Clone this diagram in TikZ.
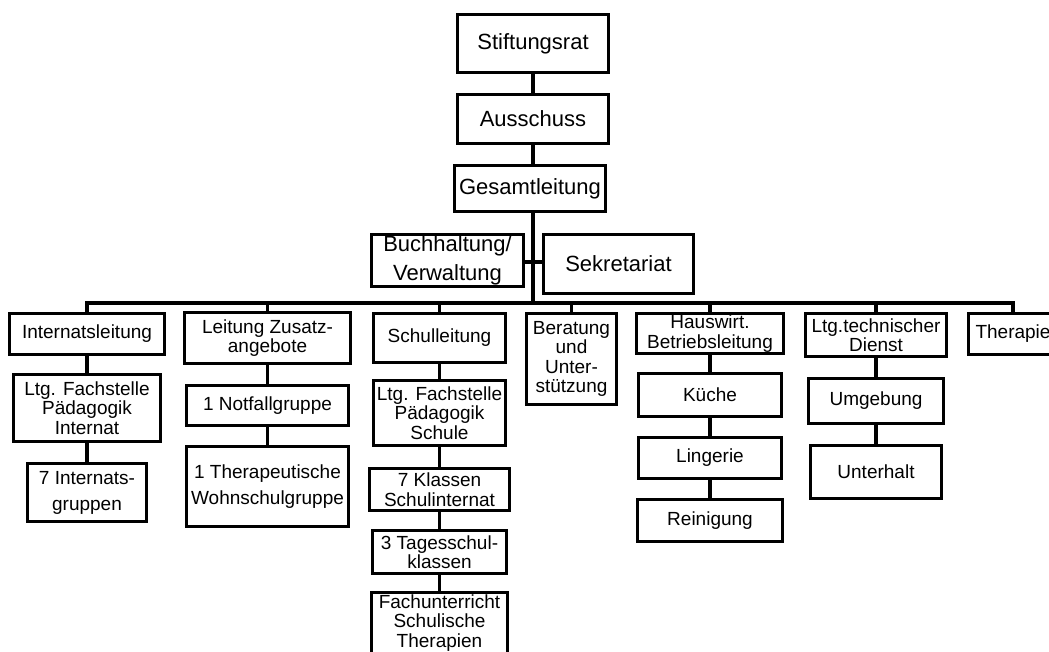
\documentclass[tikz,border=0pt]{standalone}
\usepackage{fontspec}
\setmainfont{Liberation Sans}
\usetikzlibrary{positioning, calc}

\newcommand{\orgtop}{\fontsize{16.5}{17}\selectfont}
\newcommand{\orgsub}{\fontsize{14.25}{14.6}\selectfont}

\begin{document}
\begin{tikzpicture}[x=0.75pt, y=-0.75pt,
    orgbox/.style 2 args={draw, line width=2.6pt, inner sep=0pt, align=center,
      minimum width={(#1-3.5)*0.75pt}, minimum height={(#2-3.5)*0.75pt}},
    toplvl/.style={font=\orgtop},
    sublvl/.style={font=\orgsub},
    link/.style={line width=2.6pt}]
  \useasboundingbox (0,0) rectangle (1049,652);
  \clip (0,0) rectangle (1049,652);
  % Stiftung und Leitung
  \node[orgbox={154}{61}, toplvl] (stift) at (533,43.5) {Stiftungsrat};
  \node[orgbox={154}{52}, toplvl] (aus) at (533,119) {Ausschuss};
  \node[orgbox={154}{49}, toplvl] (gesamt) at (530,188.5) {Gesamtleitung};
  \node[orgbox={155}{55}, toplvl] (buch) at (447.5,260.5) {Buchhaltung/\\[5pt]Verwaltung};
  \node[orgbox={153}{62}, toplvl] (sekr) at (618.5,264) {Sekretariat};
  \coordinate (sec) at (533,262);
  \coordinate (bus) at (533,303);
  % Bereiche
  \node[orgbox={158}{44}, sublvl] (intl) at (87,334) {Internatsleitung};
  \node[orgbox={169}{54}, sublvl] (zus) at (267.5,338) {Leitung Zusatz-\\angebote};
  \node[orgbox={135}{52}, sublvl] (schul) at (439.5,338) {Schulleitung};
  \node[orgbox={93}{94}, sublvl] (berat) at (571.5,359) {Beratung\\und\\Unter-\\stützung};
  \node[orgbox={150}{43}, sublvl] (haus) at (710,333.5) {Hauswirt.\\Betriebsleitung};
  \node[orgbox={145}{46}, sublvl] (tech) at (876,335) {Ltg.technischer\\Dienst};
  \node[orgbox={92}{44}, sublvl] (ther) at (1013,334) {Therapie};
  % Internat
  \node[orgbox={150}{70}, sublvl] (fint) at (87,408) {Ltg. Fachstelle\\Pädagogik\\Internat};
  \node[orgbox={123}{61}, sublvl] (igr) at (87,492.5) {7 Internats-\\[5pt]gruppen};
  % Zusatzangebote
  \node[orgbox={165}{43}, sublvl] (notf) at (267.5,405.5) {1 Notfallgruppe};
  \node[orgbox={165}{83}, sublvl] (wohn) at (267.5,486.5) {1 Therapeutische\\[4.5pt]Wohnschulgruppe};
  % Schule
  \node[orgbox={136}{68}, sublvl] (fsch) at (439.5,413) {Ltg. Fachstelle\\Pädagogik\\Schule};
  \node[orgbox={143}{45}, sublvl] (kla) at (439.5,489.5) {7 Klassen\\Schulinternat};
  \node[orgbox={137}{46}, sublvl] (tag) at (439.5,552) {3 Tagesschul-\\klassen};
  \node[orgbox={140}{64}, sublvl] (fach) at (439.5,623) {Fachunterricht\\Schulische\\Therapien};
  % Hauswirtschaft
  \node[orgbox={147}{46}, sublvl] (kue) at (710,395) {Küche};
  \node[orgbox={146}{44}, sublvl] (ling) at (710,458) {Lingerie};
  \node[orgbox={149}{45}, sublvl] (rein) at (710,520.5) {Reinigung};
  % Technischer Dienst
  \node[orgbox={138}{48}, sublvl] (umg) at (876,401) {Umgebung};
  \node[orgbox={135}{56}, sublvl] (unt) at (876,472) {Unterhalt};
  % Verbindungen
  \draw[link] (stift) -- (aus);
  \draw[link] (aus.south) -- (aus.south |- gesamt.north);
  \draw[link] (gesamt.south -| bus) -- (bus);
  \draw[link] (buch.east |- sec) -- (sekr.west |- sec);
  \draw[link] (intl.north) |- (bus) -| (ther.north);
  \foreach \n in {zus,schul,berat,haus,tech}
    \draw[link] (\n.north) -- (\n.north |- bus);
  \draw[link] (intl) -- (fint) -- (igr);
  \draw[link] (zus) -- (notf) -- (wohn);
  \draw[link] (schul) -- (fsch) -- (kla) -- (tag) -- (fach);
  \draw[link] (haus) -- (kue) -- (ling) -- (rein);
  \draw[link] (tech) -- (umg) -- (unt);
\end{tikzpicture}
\end{document}
